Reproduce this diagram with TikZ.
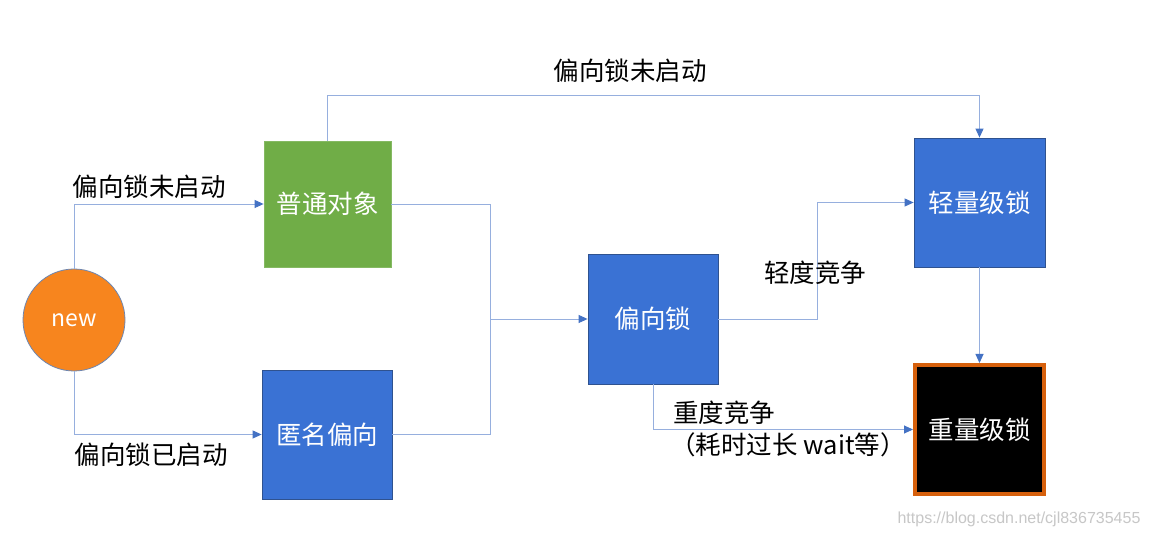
\documentclass[tikz,border=0pt]{standalone}
\usepackage{fontspec}
\setmainfont{Noto Sans CJK SC}
\newfontfamily\wmfont{Liberation Sans}
\usetikzlibrary{arrows.meta}
\definecolor{boxblue}{RGB}{58,114,212}
\definecolor{boxblueb}{RGB}{47,82,143}
\definecolor{boxgreen}{RGB}{112,173,71}
\definecolor{lineclr}{RGB}{150,175,222}
\definecolor{tipclr}{RGB}{68,114,196}
\definecolor{neworange}{RGB}{247,133,30}
\definecolor{heavyorange}{RGB}{214,96,12}
\tikzset{
  boxnode/.style={minimum width=130pt,minimum height=129pt,inner sep=0pt,text=white,font=\fontsize{25.5}{29}\selectfont},
  bluebox/.style={boxnode,fill=boxblue,draw=boxblueb,line width=0.8pt},
  conn/.style={draw=lineclr,line width=0.9pt},
  arr/.style={conn,-{Triangle[length=9pt,width=8pt,color=tipclr]}},
  lbl/.style={font=\fontsize{25.5}{29}\selectfont,text=black,inner sep=0pt}
}
\begin{document}
\begin{tikzpicture}[x=1pt,y=1pt]
\useasboundingbox (0,0) rectangle (1149,538);
\fill[white] (0,0) rectangle (1149,538);
% nodes
\node[circle,minimum size=102pt,inner sep=0pt,fill=neworange,draw=boxblueb!70,line width=0.8pt,text=white,font=\fontsize{23}{26}\selectfont] (new) at (74,218) {new};
\node[boxnode,fill=boxgreen,draw=boxgreen!85!white,line width=0.8pt,minimum width=127pt,minimum height=126pt] (plain) at (327.5,334) {普通对象};
\node[bluebox] (anon) at (327,103.5) {匿名偏向};
\node[bluebox,minimum height=130pt] (bias) at (653,219) {偏向锁};
\node[bluebox,minimum width=131pt] (light) at (979.5,335.5) {轻量级锁};
\node[boxnode,fill=black,draw=heavyorange,line width=4pt,minimum width=129pt,minimum height=129pt] (heavy) at (979.5,108.5) {重量级锁};
\coordinate (j) at (490,219);
% connectors
\draw[arr] (new.north) |- (plain.west);
\draw[arr] (new.south) |- (anon.west);
\draw[conn] (plain.east) -| (j);
\draw[conn] (anon.east) -| (j);
\draw[arr] (j) -- (bias.west);
\draw[arr] (plain.north) |- ++(0,45) -| (light.north);
\draw[arr] (bias.east) -- ++(99,0) |- (light.west);
\draw[arr] (bias.south) |- (heavy.west);
\draw[arr] (light.south) -- (heavy.north);
% labels
\node[lbl] (l1) at (149,351) {偏向锁未启动};
\node[lbl] (l2) at (151,83) {偏向锁已启动};
\node[lbl] (l3) at (630,467) {偏向锁未启动};
\node[lbl] (l4) at (815,265) {轻度竞争};
\node[lbl] (l5) at (724,125) {重度竞争};
\node[lbl] (l6) at (788,93) {（耗时过长 wait等）};
\node[font=\wmfont\fontsize{16}{19}\selectfont,text=black!22,inner sep=0pt] (wm) at (1019,19) {https://blog.csdn.net/cjl836735455};
\end{tikzpicture}
\end{document}
